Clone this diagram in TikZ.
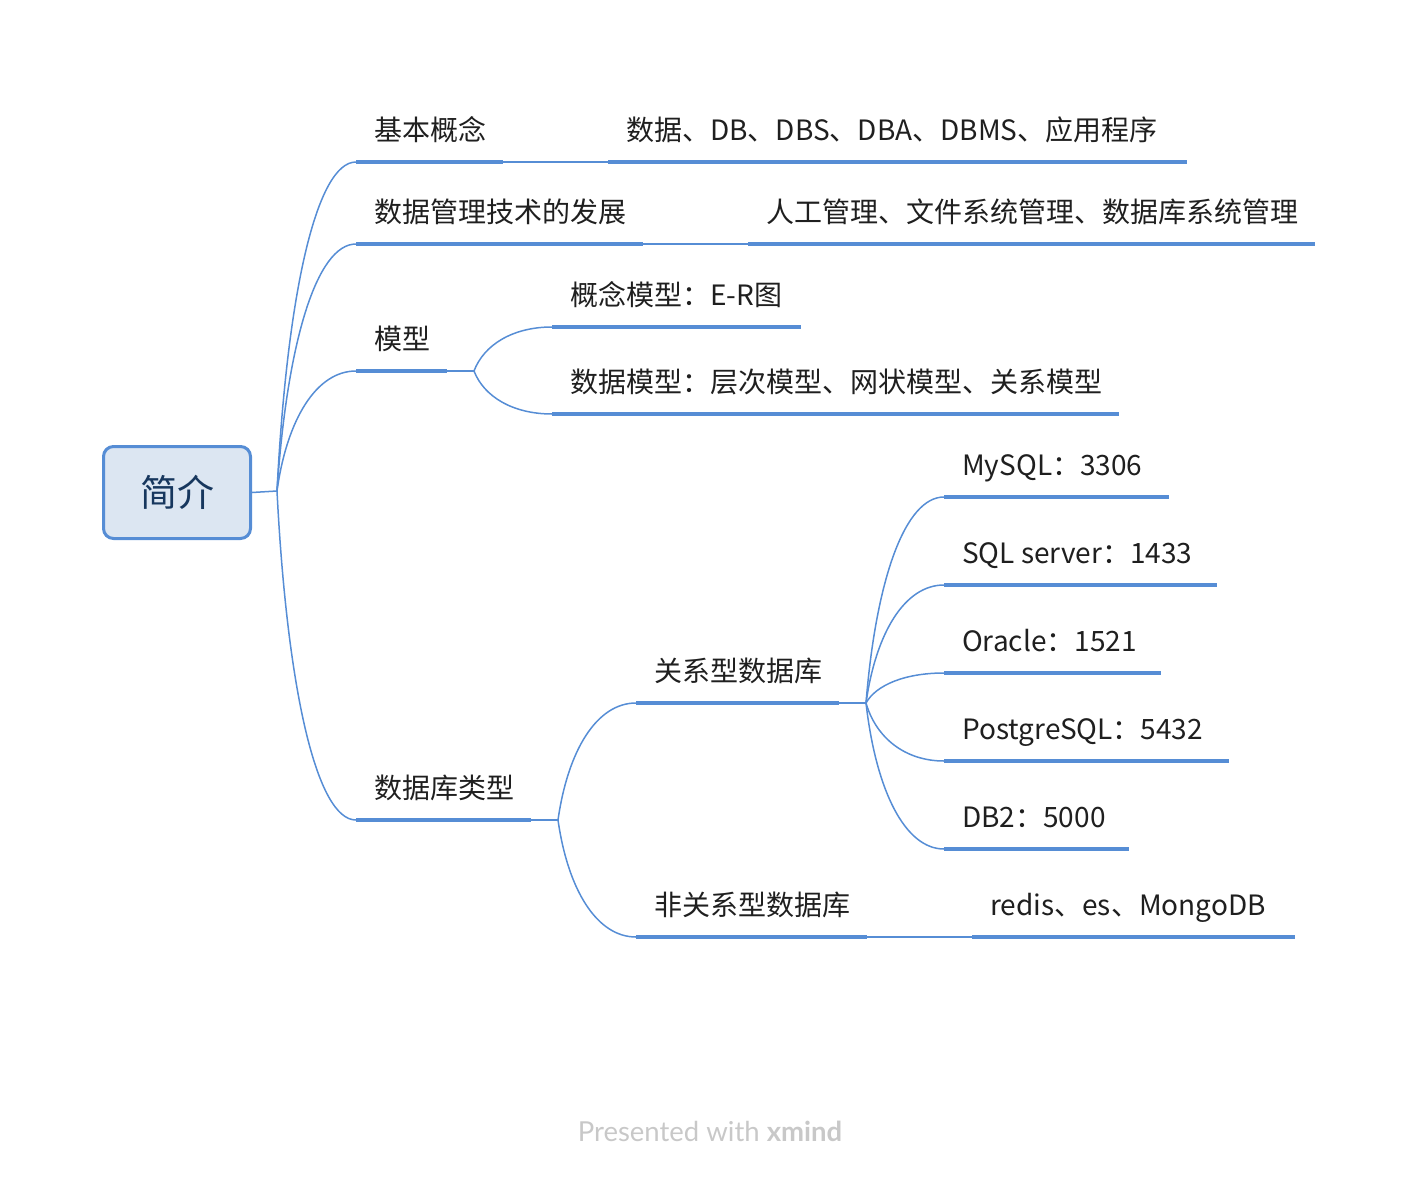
\documentclass[tikz,border=0pt]{standalone}
\usepackage{fontspec}
\setmainfont{Noto Sans CJK SC}
\newfontfamily\footfont{Lato}
\usetikzlibrary{calc}

\definecolor{xblue}{RGB}{86,141,213}
\definecolor{xfill}{RGB}{220,230,242}
\definecolor{xtext}{RGB}{23,55,94}
\definecolor{xgray}{RGB}{200,200,200}

\tikzset{
  root/.style={draw=xblue, line width=3pt, fill=xfill, rounded corners=10pt, minimum width=147pt, minimum height=92pt, inner sep=0pt, text=xtext, font=\fontsize{37}{40}\selectfont},
  topic/.style={anchor=base west, inner sep=0pt, text=black!88, font=\fontsize{28}{32}\selectfont},
  bar/.style={xblue, line width=4.5pt},
  link/.style={xblue, line width=1.5pt},
  branch/.style={to path={.. controls ($(\tikztostart)!0.6!(\tikztostart |- \tikztotarget)+(10,0)$) and ($(\tikztostart |- \tikztotarget)!0.5!(\tikztotarget)$) .. (\tikztotarget)}},
}

\begin{document}
\begin{tikzpicture}[x=1pt,y=1pt,yscale=-1,xscale=1]
\useasboundingbox (0,0) rectangle (1416,1180);

% Root
\node[root] (jj) at (177,492.5) {简介};
\coordinate (r0) at (277,491);
\draw[link] (jj.east) -- (r0);

% Topic: 基本概念
\draw[bar] (356,162) coordinate (jbgn-l) -- (503,162) coordinate (jbgn-r);
\node[topic] (jbgn) at (374,140) {基本概念};
\draw[bar] (608,162) coordinate (jbgnv-l) -- (1187,162);
\node[topic] (jbgnv) at (626,140) {数据、DB、DBS、DBA、DBMS、应用程序};
\draw[link] (jbgn-r) -- (jbgnv-l);

% Topic: 数据管理技术的发展
\draw[bar] (356,244) coordinate (fz-l) -- (643,244) coordinate (fz-r);
\node[topic] (fz) at (374,222) {数据管理技术的发展};
\draw[bar] (748,244) coordinate (fzv-l) -- (1315,244);
\node[topic] (fzv) at (766,222) {人工管理、文件系统管理、数据库系统管理};
\draw[link] (fz-r) -- (fzv-l);

% Topic: 模型
\draw[bar] (356,371) coordinate (mx-l) -- (447,371) coordinate (mx-r);
\node[topic] (mx) at (374,349) {模型};
\coordinate (m0) at (474,371);
\draw[link] (mx-r) -- (m0);
\draw[bar] (552,327) coordinate (gn-l) -- (801,327);
\node[topic] (gn) at (570,305) {概念模型：E-R图};
\draw[bar] (552,414) coordinate (sj-l) -- (1119,414);
\node[topic] (sj) at (570,392) {数据模型：层次模型、网状模型、关系模型};

% Topic: 数据库类型
\draw[bar] (356,820) coordinate (lx-l) -- (531,820) coordinate (lx-r);
\node[topic] (lx) at (374,798) {数据库类型};
\coordinate (l0) at (558,820);
\draw[link] (lx-r) -- (l0);

% 关系型数据库
\draw[bar] (636,703) coordinate (gx-l) -- (839,703) coordinate (gx-r);
\node[topic] (gx) at (654,681) {关系型数据库};
\coordinate (g0) at (866,703);
\draw[link] (gx-r) -- (g0);
\draw[bar] (944,497) coordinate (my-l) -- (1169,497);
\node[topic] (my) at (962,475) {MySQL：3306};
\draw[bar] (944,585) coordinate (ss-l) -- (1217,585);
\node[topic] (ss) at (962,563) {SQL server：1433};
\draw[bar] (944,673) coordinate (or-l) -- (1161,673);
\node[topic] (or) at (962,651) {Oracle：1521};
\draw[bar] (944,761) coordinate (pg-l) -- (1229,761);
\node[topic] (pg) at (962,739) {PostgreSQL：5432};
\draw[bar] (944,849) coordinate (db-l) -- (1129,849);
\node[topic] (db) at (962,827) {DB2：5000};

% 非关系型数据库
\draw[bar] (636,937) coordinate (fg-l) -- (867,937) coordinate (fg-r);
\node[topic] (fg) at (654,915) {非关系型数据库};
\draw[bar] (972,937) coordinate (fgv-l) -- (1295,937);
\node[topic] (fgv) at (990,915) {redis、es、MongoDB};
\draw[link] (fg-r) -- (fgv-l);

% Curves
\draw[link] (r0) to[branch] (jbgn-l);
\draw[link] (r0) to[branch] (fz-l);
\draw[link] (r0) to[branch] (mx-l);
\draw[link] (r0) to[branch] (lx-l);
\draw[link] (m0) to[branch] (gn-l);
\draw[link] (m0) to[branch] (sj-l);
\draw[link] (l0) to[branch] (gx-l);
\draw[link] (l0) to[branch] (fg-l);
\draw[link] (g0) to[branch] (my-l);
\draw[link] (g0) to[branch] (ss-l);
\draw[link] (g0) to[branch] (or-l);
\draw[link] (g0) to[branch] (pg-l);
\draw[link] (g0) to[branch] (db-l);

% Footer
\node[font=\footfont\fontsize{27.5}{32}\selectfont, text=xgray] (foot) at (710,1131) {Presented with \textbf{xmind}};
\end{tikzpicture}
\end{document}
